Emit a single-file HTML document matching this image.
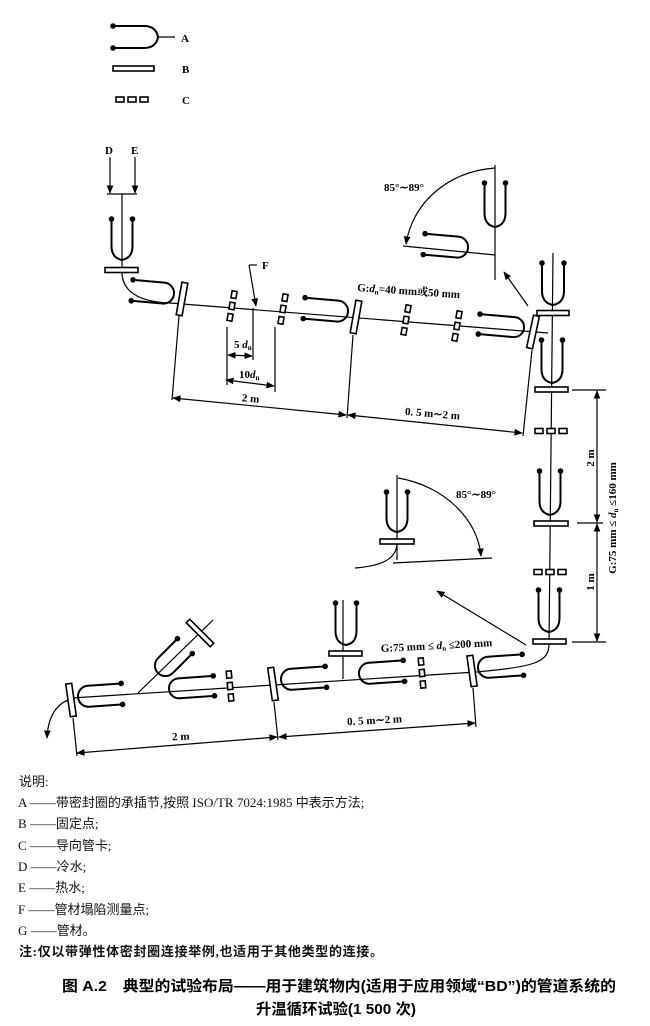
<!DOCTYPE html>
<html><head><meta charset="utf-8">
<style>
html,body{margin:0;padding:0;background:#fff;}
svg{display:block;}
.lbl{font-family:"Liberation Serif","Noto Serif CJK SC",serif;font-weight:bold;font-size:11px;fill:#000;}
.note{font-family:"Liberation Serif","Noto Sans CJK SC",sans-serif;font-size:13px;fill:#111;}
.title{font-family:"Liberation Sans","Noto Sans CJK SC",sans-serif;font-weight:bold;font-size:15px;fill:#000;}
</style></head>
<body>
<svg id="fig" width="650" height="1026" viewBox="0 0 650 1026" xmlns="http://www.w3.org/2000/svg">
<defs>
<marker id="ar" viewBox="0 0 10 10" refX="9" refY="5" markerWidth="7" markerHeight="7" orient="auto-start-reverse"><path d="M0,1 L10,5 L0,9 z" fill="#000"/></marker>
</defs>
<g id="draw" fill="none" stroke="#000" stroke-width="1.2"></g>

<text class="lbl" x="181" y="42">A</text>
<text class="lbl" x="182" y="73">B</text>
<text class="lbl" x="182" y="104">C</text>

<text class="lbl" x="105" y="154">D</text>
<text class="lbl" x="131" y="154">E</text>
<text class="lbl" x="262" y="269">F</text>
<text class="lbl" x="234" y="348">5 <tspan font-style="italic">d</tspan><tspan font-size="7" dy="2">n</tspan></text>
<text class="lbl" x="239" y="378">10<tspan font-style="italic">d</tspan><tspan font-size="7" dy="2">n</tspan></text>
<text class="lbl" x="242" y="402" transform="rotate(5 250 398)">2 m</text>
<text class="lbl" x="405" y="417" transform="rotate(5 430 413)">0. 5 m∼2 m</text>
<text class="lbl" x="357" y="291" transform="rotate(4 357 291)">G:<tspan font-style="italic">d</tspan><tspan font-size="7" dy="2">n</tspan><tspan dy="-2">=40 mm或50 mm</tspan></text>
<text class="lbl" x="384" y="191">85°∼89°</text>

<text class="lbl" transform="translate(594 458) rotate(-90)" text-anchor="middle">2 m</text>
<text class="lbl" transform="translate(594 582) rotate(-90)" text-anchor="middle">1 m</text>
<text class="lbl" transform="translate(616 518) rotate(-90)" text-anchor="middle">G:75 mm ≤ <tspan font-style="italic">d</tspan><tspan font-size="7" dy="2">n</tspan><tspan dy="-2"> ≤160 mm</tspan></text>

<text class="lbl" x="456" y="498">85°∼89°</text>
<text class="lbl" x="381" y="652" transform="rotate(-3 381 652)">G:75 mm ≤ <tspan font-style="italic">d</tspan><tspan font-size="7" dy="2">n</tspan><tspan dy="-2"> ≤200 mm</tspan></text>
<text class="lbl" x="172" y="740" transform="rotate(-3 180 736)">2 m</text>
<text class="lbl" x="347" y="724" transform="rotate(-3 370 720)">0. 5 m∼2 m</text>

<g>
<text class="note" x="19" y="786">说明:</text>
<text class="note" x="18" y="807">A ——带密封圈的承插节,按照 ISO/TR 7024:1985 中表示方法;</text>
<text class="note" x="18" y="828">B ——固定点;</text>
<text class="note" x="18" y="850">C ——导向管卡;</text>
<text class="note" x="18" y="871">D ——冷水;</text>
<text class="note" x="18" y="892">E ——热水;</text>
<text class="note" x="18" y="914">F ——管材塌陷测量点;</text>
<text class="note" x="18" y="935">G ——管材。</text>
<text class="note" x="19" y="956" font-weight="bold" textLength="364">注:仅以带弹性体密封圈连接举例,也适用于其他类型的连接。</text>
</g>
<text class="title" x="62" y="991" textLength="554" lengthAdjust="spacingAndGlyphs">图 A.2　典型的试验布局——用于建筑物内(适用于应用领域“BD”)的管道系统的</text>
<text class="title" x="256" y="1014" textLength="160" lengthAdjust="spacingAndGlyphs">升温循环试验(1 500 次)</text>
</svg>
<script>
var NS='http://www.w3.org/2000/svg';
var G=document.getElementById('draw');
function mk(tag,attrs,parent){var e=document.createElementNS(NS,tag);for(var k in attrs)e.setAttribute(k,attrs[k]);(parent||G).appendChild(e);return e;}
function line(x1,y1,x2,y2,name,arrow){var e=mk('line',{x1:x1,y1:y1,x2:x2,y2:y2});


if(arrow==='end'||arrow==='both')e.setAttribute('marker-end','url(#ar)');if(arrow==='start'||arrow==='both')e.setAttribute('marker-start','url(#ar)');return e;}
function path(d,name,arrow){var e=mk('path',{d:d});


if(arrow)e.setAttribute('marker-end','url(#ar)');return e;}
function dot(x,y,g){var c=mk('circle',{cx:x,cy:y,r:2.8,fill:'#000',stroke:'none'},g);

}
function ysock(fx,fy,len,w,ang){var g=mk('g',{transform:'translate('+fx+' '+fy+') rotate('+ang+')','stroke-width':'2'});


var h=w/2;var p=mk('path',{d:'M'+(-h)+','+(-len)+' V'+(-14)+' Q'+(-h)+',-2 0,0 Q'+h+',-2 '+h+','+(-14)+' V'+(-len)},g);


dot(-h,-len,g);dot(h,-len,g);}
function usock(fx,fy,len,w,ang){var g=mk('g',{transform:'translate('+fx+' '+fy+') rotate('+ang+')','stroke-width':'2'});


var h=w/2;var p=mk('path',{d:'M'+(-h)+','+(-len)+' V'+(-h)+' A'+h+' '+h+' 0 0 0 '+h+','+(-h)+' V'+(-len)},g);


dot(-h,-len,g);dot(h,-len,g);}
function plate(cx,cy,w,h,ang,name){var r=mk('rect',{x:cx-w/2,y:cy-h/2,width:w,height:h,transform:'rotate('+ang+' '+cx+' '+cy+')','stroke-width':'1.6',fill:'#fff'});

}
function guides(cx,cy,vertical,ang){var g=mk('g',{transform:'translate('+cx+' '+cy+') rotate('+ang+')','stroke-width':'1.6'});


for(var i=-1;i<=1;i++){var r=vertical?mk('rect',{x:-2.5,y:i*11.5-3.5,width:5,height:7,fill:'#fff'},g):mk('rect',{x:i*12-4,y:-2.5,width:8,height:5,fill:'#fff'},g);

}}

// Legend
ysock(158,37,45,22,-90);
line(158,37,175,37,'legend-a-leader');
plate(133.5,68.5,41,5,0,'legend-fixed-point');
guides(132,99.5,false,0);

// Top section
line(110,157,110,193,'arrow-cold-water','end');
line(135,157,135,193,'arrow-hot-water','end');
line(107,194,137,194,'inlet-junction');
line(122,194,122,272,'inlet-riser');
ysock(122,260,41,21,0);
plate(121.5,270,33,5,0,'fixed-point-inlet');
path('M122,272 C122,292 140,302 170,303','pipe-inlet-bend');
line(170,303,548,333,'pipe-top-run');
usock(174,294,42,21,-85);
plate(182,299,6,33,10,'fixed-point-top-1');
guides(232,306,true,10);
guides(283,309,true,10);
usock(348,312,44,21,-85);
plate(356,317,6,33,10,'fixed-point-top-2');
guides(406,320,true,10);
guides(457,326,true,10);
usock(524,328,45,20,-85);
plate(533,332,6,33,12,'fixed-point-top-3');
line(257,265,249,265,'f-leader-h');
line(249,265,256,306,'f-leader','end');
line(227,327,227,385,'ext-5dn-a');
line(253,308,253,360,'ext-5dn-b');
line(228,355,252,356,'dim-5dn-line','both');
line(275,327,275,392,'ext-10dn-b');
line(226,380,274,386,'dim-10dn-line','both');
line(179,316,172,400,'ext-2m-top-a');
line(353,335,347,418,'ext-2m-top-b');
line(532,350,523,436,'ext-05-top-c');
line(173,398,346,415,'dim-2m-top-line','both');
line(348,415,522,433,'dim-05-top-line','both');
// top inset
line(495,165,495,280,'inset-top-vertical');
ysock(495,227,44,21,0);
usock(468,248,44,21,-85);
line(403,246,495,255,'inset-top-horizontal');
path('M495,168 C445,172 412,205 406,244','angle-arc-top',true);
line(528,306,504,272,'inset-top-pointer','end');

// Right vertical
line(553,253,549,645,'pipe-vertical-run');
ysock(553,305,42,22,0);
plate(553,313,32,5,0,'fixed-point-right-top');
ysock(552,383,43,21,0);
plate(551.5,389.5,33,5,0,'fixed-point-right-1');
guides(551,431,false,0);
ysock(550,515,44,21,0);
plate(551,523.5,34,5,0,'fixed-point-right-2');
guides(550,572,false,0);
ysock(549,632,42,21,0);
plate(549.5,641.5,33,5,0,'fixed-point-right-3');
line(572,390,606,390,'ext-right-a');
line(577,523,603,523,'ext-right-b');
line(572,642,606,642,'ext-right-c');
line(597,391,597,522,'dim-2m-vertical-line','both');
line(597,524,597,641,'dim-1m-vertical-line','both');

// Bottom section
path('M549,644 C549,662 535,667 476,672','pipe-bottom-bend');
line(476,672,72,698,'pipe-bottom-run');
path('M72,699 C58,702 48,715 47,738','pipe-outlet',true);
plate(71,700,6,33,-8,'fixed-point-bottom-1');
usock(78,697,44,21,86);
line(138,693,213,620,'branch-diagonal');
usock(158,673,38,21,45);
plate(200,633,34,5,45,'fixed-point-branch-diagonal');
usock(169,689,45,20,86);
guides(230,686,true,-5);
plate(273,684,6,33,-8,'fixed-point-bottom-2');
usock(281,680,45,21,86);
line(343,600,343,679,'branch-vertical');
ysock(346,645,42,21,0);
plate(345.5,653.5,33,5,0,'fixed-point-branch-vertical');
usock(359,674,45,21,86);
guides(422,673,true,-5);
plate(472,671,6,31,-8,'fixed-point-bottom-3');
usock(478,668,45,21,86);
// bottom inset
line(397,475,397,560,'inset-bottom-vertical');
ysock(397,532,40,21,0);
plate(397,541.5,34,5,0,'inset-bottom-plate');
path('M397,544 C396,560 380,566 355,568','inset-bottom-bend');
line(393,563,492,558,'inset-bottom-horizontal');
path('M398,478 C445,486 478,520 481,556','angle-arc-bottom',true);
line(526,645,437,591,'inset-bottom-pointer','end');
line(73,718,77,756,'ext-bottom-a');
line(274,702,278,740,'ext-bottom-b');
line(473,688,476,727,'ext-bottom-c');
line(77,753,277,737,'dim-2m-bottom-line','both');
line(279,737,475,723,'dim-05-bottom-line','both');
</script>
</body></html>
